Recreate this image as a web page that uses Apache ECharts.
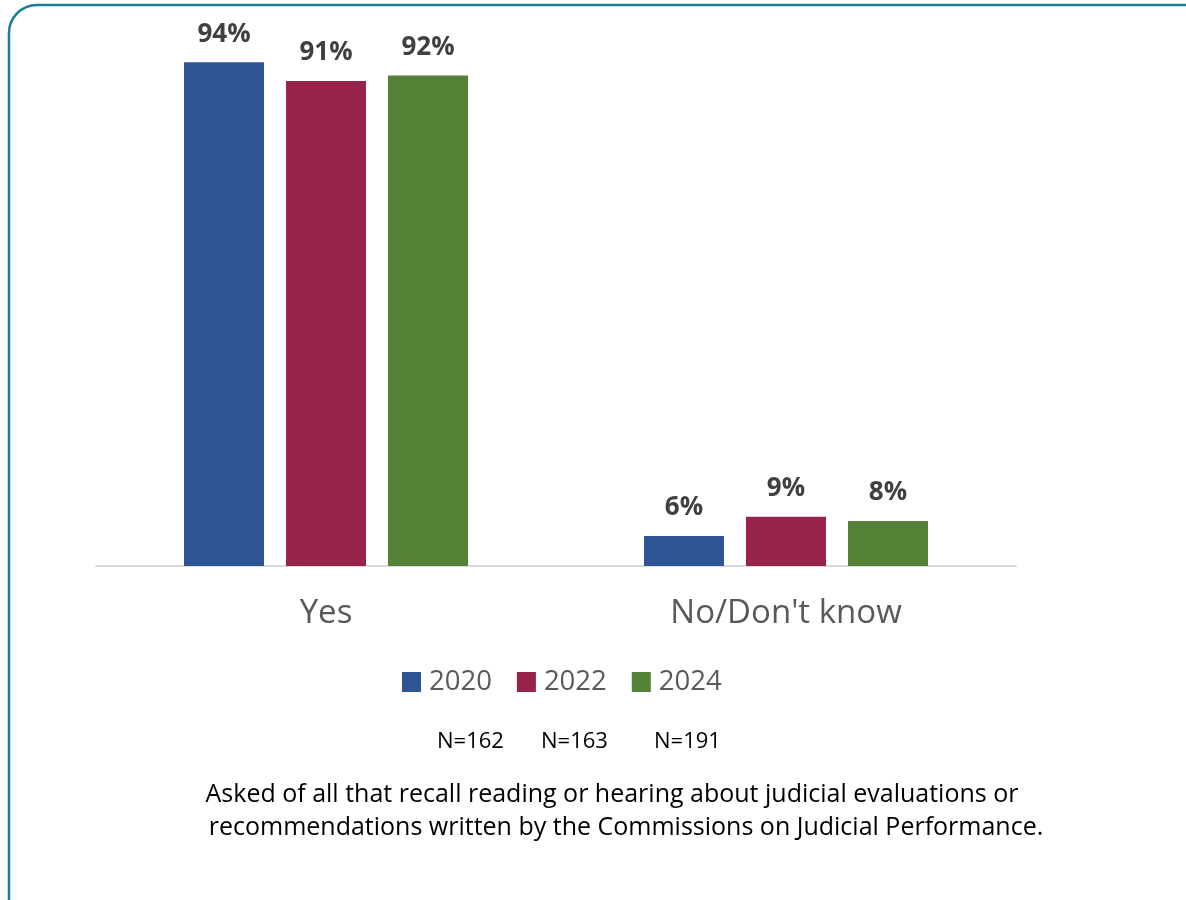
<!DOCTYPE html>
<html>
<head>
<meta charset="utf-8">
<script src="https://cdn.jsdelivr.net/npm/echarts@6/dist/echarts.min.js"></script>
<style>
html,body{margin:0;padding:0;background:#fff;}
#chart{width:1186px;height:900px;}
</style>
</head>
<body>
<div id="chart"></div>
<script>
const categories = ["Yes", "No/Don't know"];
const seriesNames = ["2020", "2022", "2024"];
const values2020 = [94, 5.6];
const values2022 = [90.5, 9.2];
const values2024 = [91.5, 8.4];
const colors = ["#2f5597", "#982449", "#538135"];
const sampleSizes = ["N=162", "N=163", "N=191"];
const footnote = ["Asked of all that recall reading or hearing about judicial evaluations or",
  "recommendations written by the Commissions on Judicial Performance."];

const FONT = "'Open Sans', Lato, 'Liberation Sans', sans-serif";
const chart = echarts.init(document.getElementById('chart'));
const allValues = [values2020, values2022, values2024];

chart.setOption({
  animation: false,
  backgroundColor: '#ffffff',
  grid: { left: 96, right: 170, top: 30, bottom: 334 },
  legend: {
    data: seriesNames,
    top: 663,
    left: 397,
    itemWidth: 19,
    itemHeight: 20,
    itemGap: 25,
    icon: 'rect',
    textStyle: { fontFamily: FONT, fontSize: 27.5, color: '#595959', padding: [0, 0, 0, 3] }
  },
  xAxis: {
    type: 'category',
    data: categories,
    axisLine: { lineStyle: { color: '#d9d9d9', width: 2 } },
    axisTick: { show: false },
    axisLabel: { fontFamily: FONT, fontSize: 33, color: '#595959', margin: 31 }
  },
  yAxis: {
    type: 'value',
    min: 0, max: 100,
    show: false,
    splitLine: { show: false }
  },
  series: seriesNames.map((name, i) => ({
    name: name,
    type: 'bar',
    data: allValues[i],
    barWidth: 80,
    barGap: '27.5%',
    itemStyle: { color: colors[i] },
    label: {
      show: true,
      position: 'top',
      distance: 15,
      formatter: p => Math.round(p.value) + '%',
      fontFamily: FONT,
      fontWeight: 'bold',
      fontSize: 26,
      color: '#404040'
    }
  })),
  graphic: [
    {
      type: 'rect',
      shape: { x: 9, y: 5, width: 1220, height: 940, r: 28 },
      style: { fill: null, stroke: '#1b7b9b', lineWidth: 2.5 },
      silent: true
    },
    { type: 'text', x: 437, y: 742, style: { text: sampleSizes[0], font: '22px ' + FONT, fill: '#000', textVerticalAlign: 'middle' } },
    { type: 'text', x: 541, y: 742, style: { text: sampleSizes[1], font: '22px ' + FONT, fill: '#000', textVerticalAlign: 'middle' } },
    { type: 'text', x: 654, y: 742, style: { text: sampleSizes[2], font: '22px ' + FONT, fill: '#000', textVerticalAlign: 'middle' } },
    { type: 'text', x: 612, y: 795, style: { text: footnote[0], font: '25px ' + FONT, fill: '#000', textAlign: 'center', textVerticalAlign: 'middle' } },
    { type: 'text', x: 626, y: 828, style: { text: footnote[1], font: '25px ' + FONT, fill: '#000', textAlign: 'center', textVerticalAlign: 'middle' } }
  ]
});
</script>
</body>
</html>
